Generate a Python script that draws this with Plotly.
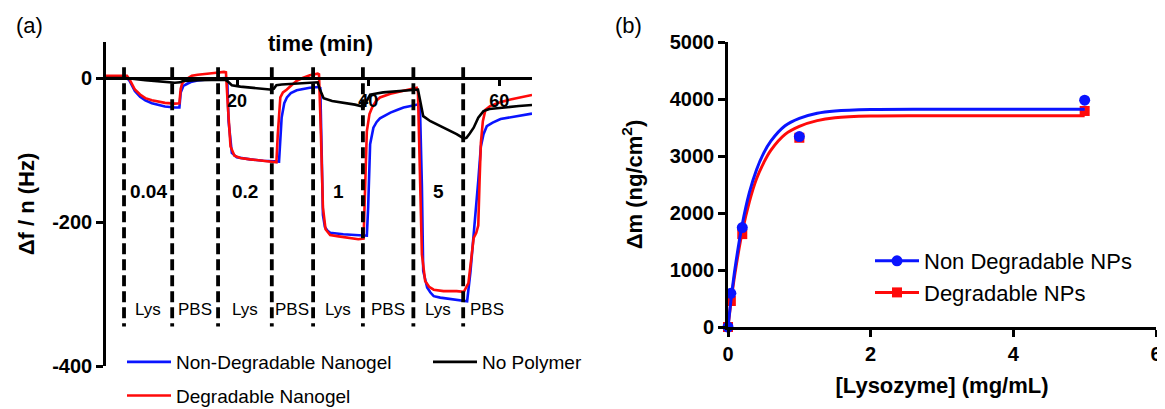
import plotly.graph_objects as go

W, H = 1165, 409
FONT = "Liberation Sans, Arial, Helvetica, sans-serif"

# ---------------- Panel (a) data: QCM frequency shift vs time ----------------
t_nondeg = [0, 3.2, 3.6, 4.4, 5.2, 6.0, 7.0, 8.0, 9.0, 10.5, 11.2, 11.4, 11.8, 12.4, 13.1, 14.0,
            15.1, 16.5, 18.2, 18.5, 18.7, 19.2, 19.95, 21.0, 22.0, 24.0, 26.1, 26.4, 26.8, 27.2,
            27.6, 28.2, 29.1, 30.0, 31.1, 32.4, 32.7, 32.9, 33.1, 33.4, 33.8, 34.2, 35.0, 36.2,
            38.0, 39.8, 40.0, 40.3, 40.8, 41.3, 41.8, 42.5, 43.4, 44.5, 45.4, 46.5, 47.7, 47.9,
            48.2, 48.4, 49.0, 49.5, 50.0, 51.0, 52.5, 53.7, 54.8, 55.1, 55.6, 56.0, 56.4, 56.8,
            57.2, 57.6, 58.1, 59.0, 60.2, 62.0, 63.5, 65.0]
v_nondeg = [0, 0, -4, -18, -26, -31, -35, -37.5, -39.5, -41, -41, -20, -11, -8, -5, -3.5,
            -2, -1, 0, -2, -60, -104, -110, -112, -113, -115, -116, -116, -55, -35,
            -27, -21, -17, -15, -13.5, -12.5, -14, -100, -190, -207, -212, -215, -216, -217,
            -218, -219, -180, -92, -69, -61, -56, -52, -48, -44, -41, -39, -36.6, -38,
            -150, -268, -291, -298, -303, -305, -307, -309, -310, -310, -270, -230, -185, -143,
            -95, -78, -67, -62, -57, -54, -52, -49.5]

t_deg = [0, 3.2, 3.6, 4.4, 5.2, 6.0, 7.0, 8.0, 9.0, 10.5, 11.2, 11.4, 11.6, 12.0, 12.6, 13.1,
         14.0, 15.1, 16.5, 18.0, 18.3, 18.6, 19.0, 19.6, 20.5, 22.0, 24.0, 26.0, 26.2, 26.6,
         27.0, 27.6, 28.3, 29.1, 30.0, 31.1, 32.3, 32.5, 32.8, 33.1, 33.5, 34.2, 35.5, 37.0,
         38.5, 39.3, 39.5, 39.8, 40.2, 40.6, 41.2, 41.8, 43.4, 45.0, 46.4, 47.4, 47.6, 47.9,
         48.2, 48.7, 49.3, 50.0, 51.5, 53.5, 54.6, 55.3, 55.8, 56.1, 56.5, 56.8, 57.0, 57.2,
         57.5, 57.9, 58.6, 60.0, 61.7, 63.5, 65.0]
v_deg = [3, 3, -2, -16, -23, -28, -31, -33, -34.5, -35.6, -35, -15, -8, -3, 0, 3,
         4.5, 6, 7, 8.5, 8, -40, -95, -108, -111, -113, -115, -117, -80, -27,
         -20, -16, -10, -4, 0, 3.7, 6, 5, -80, -180, -210, -218, -220, -222,
         -224, -223, -160, -74, -50, -41, -32, -27, -22, -19, -16, -13.5, -20, -150,
         -245, -282, -290, -294, -296, -296, -297, -285, -240, -222, -215, -205, -143, -90,
         -60, -44, -39, -34, -30, -27, -23.6]

t_nopoly = [0, 3.0, 6.0, 8.5, 10.5, 11.3, 11.8, 14.0, 16.0, 18.2, 18.6, 19.2, 20.5, 22.5, 25.0,
            25.6, 26.0, 26.8, 29.0, 31.1, 32.3, 32.6, 33.2, 34.5, 36.2, 38.0, 39.3, 39.6, 40.3,
            42.3, 44.5, 46.4, 47.6, 47.9, 48.4, 49.5, 51.0, 52.5, 53.5, 54.6, 55.0, 55.5, 56.1,
            56.8, 57.6, 58.5, 59.5, 61.2, 63.0, 65.0]
v_nopoly = [0, 0, -3, -5, -6.5, -6, -4, -3, -2.5, -2.3, -5, -10, -12, -14, -16,
            -15, -10, -9, -8, -6.5, -6, -15, -28, -32, -34, -37, -40, -35, -23,
            -20, -18.5, -17, -16, -30, -53, -60, -67, -73, -78, -84, -83, -77, -69,
            -55, -46, -43, -42, -40, -39, -37.5]

# injection times (vertical dashed lines)
switch_times = [2.75, 10.1, 17.1, 25.3, 31.6, 39.2, 46.9, 54.5]
phase_labels = ["Lys", "PBS", "Lys", "PBS", "Lys", "PBS", "Lys", "PBS"]
conc_labels = ["0.04", "0.2", "1", "5"]
a_xticks = [20, 40, 60]
a_yticks = [0, -200, -400]

# ---------------- Panel (b) data: adsorbed mass vs lysozyme ----------------
conc = [0, 0.04, 0.2, 1, 5]
mass_nondeg = [0, 590, 1745, 3340, 3980]
mass_deg = [0, 456, 1630, 3320, 3790]
fit_x = [0, 0.05, 0.1, 0.2, 0.3, 0.4, 0.5, 0.6, 0.8, 1.0, 1.25, 1.5, 2, 3, 5]
fit_nondeg = [0, 560, 1040, 1800, 2360, 2760, 3050, 3260, 3530, 3660, 3750, 3790, 3815, 3820, 3820]
fit_deg = [0, 520, 960, 1670, 2200, 2600, 2880, 3100, 3380, 3520, 3620, 3670, 3700, 3705, 3705]
b_xticks = [0, 2, 4, 6]
b_yticks = [0, 1000, 2000, 3000, 4000, 5000]

BLUE = "#0a14ff"
RED = "#ff0a0a"
BLACK = "#000000"

# ---------------- layout geometry (page pixels -> paper) ----------------
OFF = 8  # default page margin around the plot div


def px(x):
    return (x - OFF) / W


def py(y):
    return 1 - (y - OFF) / H


A_X = [px(106), px(532)]
A_Y = [py(366), py(42)]
B_X = [px(728), px(1156)]
B_Y = [py(327), py(42)]
A_YRANGE = [-400, 50]
A_XRANGE = [0, 65]
x_axis_pos = A_Y[0] + (0 - A_YRANGE[0]) / (A_YRANGE[1] - A_YRANGE[0]) * (A_Y[1] - A_Y[0])

fig = go.Figure()

# panel (a) curves
fig.add_trace(go.Scatter(x=t_nondeg, y=v_nondeg, mode="lines", name="Non-Degradable Nanogel",
                         line=dict(color=BLUE, width=2.6), xaxis="x", yaxis="y",
                         legend="legend", legendgroup="a1"))
fig.add_trace(go.Scatter(x=t_deg, y=v_deg, mode="lines", name="Degradable Nanogel",
                         line=dict(color=RED, width=2.6), xaxis="x", yaxis="y",
                         legend="legend", legendgroup="a2"))
fig.add_trace(go.Scatter(x=t_nopoly, y=v_nopoly, mode="lines", name="No Polymer",
                         line=dict(color=BLACK, width=2.6), xaxis="x", yaxis="y",
                         legend="legend3", legendgroup="a3"))

# panel (b): red first so blue sits on top
fig.add_trace(go.Scatter(x=fit_x, y=fit_deg, mode="lines", line=dict(color=RED, width=3, shape="spline"),
                         xaxis="x2", yaxis="y2", showlegend=False, cliponaxis=False))
fig.add_trace(go.Scatter(x=conc, y=mass_deg, mode="markers",
                         marker=dict(symbol="square", size=10, color=RED),
                         xaxis="x2", yaxis="y2", showlegend=False, cliponaxis=False))
fig.add_trace(go.Scatter(x=fit_x, y=fit_nondeg, mode="lines", line=dict(color=BLUE, width=3, shape="spline"),
                         xaxis="x2", yaxis="y2", showlegend=False, cliponaxis=False))
fig.add_trace(go.Scatter(x=conc, y=mass_nondeg, mode="markers",
                         marker=dict(symbol="circle", size=11, color=BLUE),
                         xaxis="x2", yaxis="y2", showlegend=False, cliponaxis=False))
# legend entries for panel (b)
fig.add_trace(go.Scatter(x=[None], y=[None], mode="lines+markers", name="Non Degradable NPs",
                         line=dict(color=BLUE, width=3), marker=dict(symbol="circle", size=11, color=BLUE),
                         xaxis="x2", yaxis="y2", legend="legend2"))
fig.add_trace(go.Scatter(x=[None], y=[None], mode="lines+markers", name="Degradable NPs",
                         line=dict(color=RED, width=3), marker=dict(symbol="square", size=10, color=RED),
                         xaxis="x2", yaxis="y2", legend="legend2"))

# dashed injection lines
DASH_TOP, DASH_BOT = 15, -345
for t in switch_times:
    fig.add_shape(type="line", xref="x", yref="y", x0=t, x1=t, y0=DASH_TOP, y1=DASH_BOT,
                  line=dict(color=BLACK, width=3.8, dash="11px,5px"), layer="above")

annotations = []
# phase labels, centred between consecutive injections
mean_gap = (switch_times[-1] - switch_times[0]) / (len(switch_times) - 1)
for i, lab in enumerate(phase_labels):
    t0 = switch_times[i]
    t1 = switch_times[i + 1] if i + 1 < len(switch_times) else t0 + mean_gap
    annotations.append(dict(x=(t0 + t1) / 2, y=-321, xref="x", yref="y", text=lab, showarrow=False,
                            xanchor="center", yanchor="middle",
                            font=dict(family=FONT, size=17, color="black")))
# concentration labels in the Lys phases
for k, lab in enumerate(conc_labels):
    t0, t1 = switch_times[2 * k], switch_times[2 * k + 1]
    annotations.append(dict(x=(t0 + t1) / 2, y=-158, xref="x", yref="y", text=lab, showarrow=False,
                            xanchor="center", yanchor="middle",
                            font=dict(family=FONT, size=19, color="black", weight="bold")))
annotations += [
    dict(x=px(320), y=py(43), xref="paper", yref="paper", text="time (min)", showarrow=False,
         xanchor="center", yanchor="middle",
         font=dict(family=FONT, size=22, color="black", weight="bold")),
    dict(x=px(29), y=py(25), xref="paper", yref="paper", text="(a)", showarrow=False,
         xanchor="center", yanchor="middle",
         font=dict(family=FONT, size=22, color="black")),
    dict(x=px(628), y=py(25), xref="paper", yref="paper", text="(b)", showarrow=False,
         xanchor="center", yanchor="middle",
         font=dict(family=FONT, size=22, color="black")),
]

axis_common = dict(showline=True, linecolor="black", linewidth=2.6, ticks="outside",
                   tickcolor="black", tickwidth=2.6, showgrid=False, zeroline=False,
                   automargin=False)

fig.update_layout(
    template="none",
    width=W, height=H, margin=dict(l=0, r=0, t=0, b=0, autoexpand=False),
    paper_bgcolor="white", plot_bgcolor="white",
    font=dict(family=FONT, color="black"),
    xaxis=dict(domain=A_X, range=A_XRANGE, anchor="free", position=x_axis_pos,
               tickvals=a_xticks, ticktext=[str(v) for v in a_xticks], ticklen=6,
               tickfont=dict(family=FONT, size=18, weight="bold"), **axis_common),
    yaxis=dict(domain=A_Y, range=A_YRANGE, anchor="x", tickvals=a_yticks,
               ticktext=[str(v) for v in a_yticks], ticklen=7,
               tickfont=dict(family=FONT, size=20, weight="bold"),
               title=dict(text="Δf / n (Hz)", standoff=12,
                          font=dict(family=FONT, size=22, weight="bold")),
               **axis_common),
    xaxis2=dict(domain=B_X, range=[0, 6], anchor="y2", tickvals=b_xticks,
                ticktext=[str(v) for v in b_xticks], ticklen=7,
                tickfont=dict(family=FONT, size=20, weight="bold"),
                title=dict(text="[Lysozyme] (mg/mL)", standoff=14,
                           font=dict(family=FONT, size=22, weight="bold")),
                **axis_common),
    yaxis2=dict(domain=B_Y, range=[0, 5000], anchor="x2", tickvals=b_yticks,
                ticktext=[str(v) for v in b_yticks], ticklen=7,
                tickfont=dict(family=FONT, size=20, weight="bold"),
                title=dict(text="Δm (ng/cm<sup>2</sup>)", standoff=22,
                           font=dict(family=FONT, size=22, weight="bold")),
                **axis_common),
    legend=dict(x=px(122), y=py(343), xanchor="left", yanchor="top", orientation="v",
                font=dict(family=FONT, size=19), itemwidth=44, tracegroupgap=6,
                bgcolor="rgba(0,0,0,0)"),
    legend3=dict(x=px(428), y=py(343), xanchor="left", yanchor="top", orientation="v",
                 font=dict(family=FONT, size=19), itemwidth=44, bgcolor="rgba(0,0,0,0)"),
    legend2=dict(x=px(870), y=py(240), xanchor="left", yanchor="top", orientation="v",
                 font=dict(family=FONT, size=22), itemwidth=44, tracegroupgap=0,
                 bgcolor="rgba(0,0,0,0)"),
    annotations=annotations,
)

fig.write_html("out.html")
